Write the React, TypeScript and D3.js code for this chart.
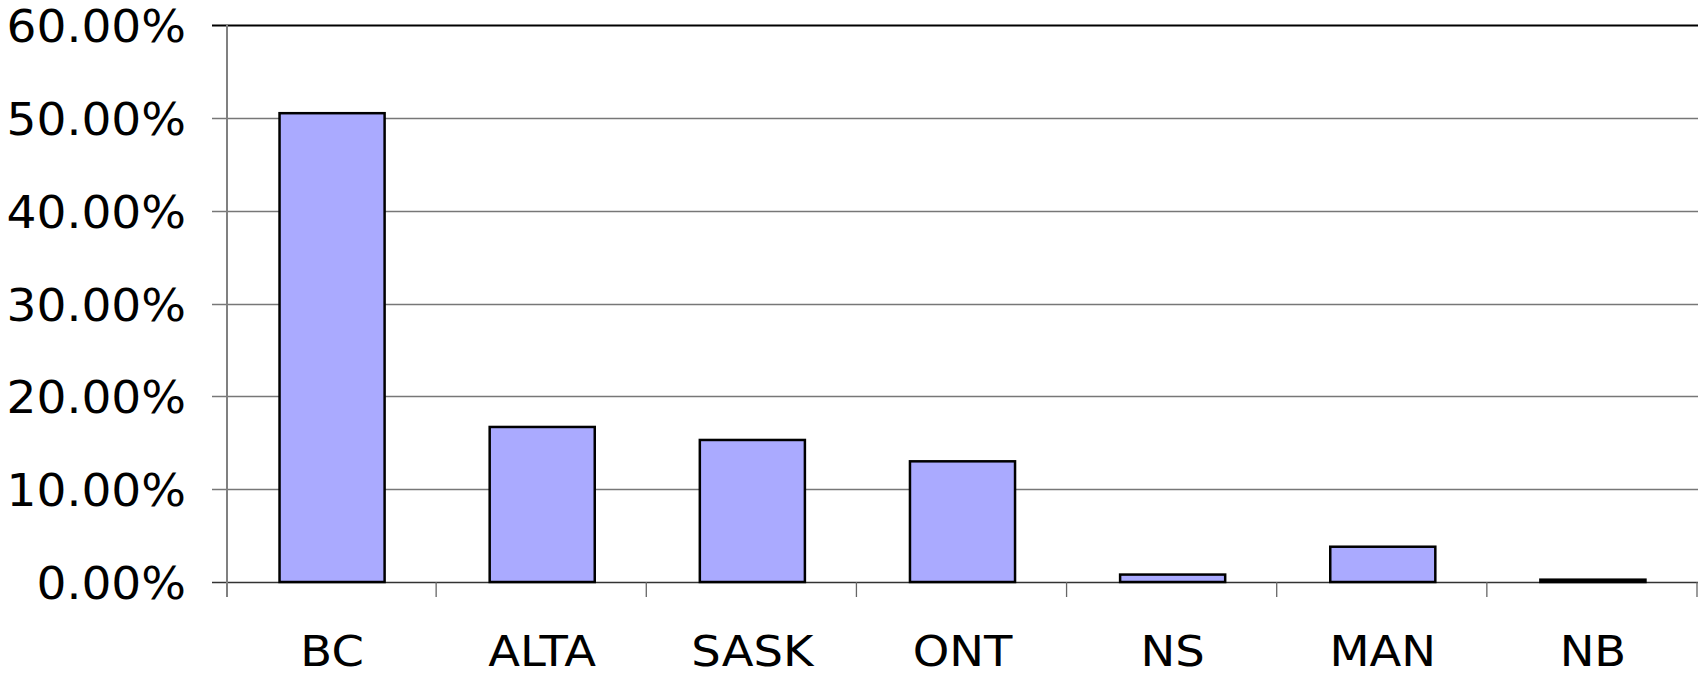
import React, { useEffect, useRef } from 'react';
import * as d3 from 'd3';

// provinces and their share (percent)
const provinces = ['BC', 'ALTA', 'SASK', 'ONT', 'NS', 'MAN', 'NB'];
const shares = [50.5, 16.7, 15.3, 13.0, 0.8, 3.8, 0.25];
const yTicks = [0, 10, 20, 30, 40, 50, 60];

const App = () => {
  const ref = useRef<SVGSVGElement>(null);

  useEffect(() => {
    const W = 1699, H = 676;
    const margin = { top: 25, left: 227, right: 1, bottom: 94 };
    const svg = d3.select(ref.current);
    svg.selectAll('*').remove();

    const x = d3.scaleBand().domain(provinces)
      .range([margin.left, W - margin.right])
      .paddingInner(0.5).paddingOuter(0.25);
    const xEdge = d3.scaleLinear().domain([0, provinces.length])
      .range([margin.left, W - margin.right]);
    const y = d3.scaleLinear().domain([0, 60]).range([H - margin.bottom, margin.top]);

    // the original font runs a bit wider than DejaVu, so stretch it a little
    const font = '"DejaVu Sans", Verdana, sans-serif';

    // gridlines
    svg.append('g').selectAll('line').data(yTicks).join('line')
      .attr('x1', margin.left - 15).attr('x2', W - margin.right)
      .attr('y1', d => Math.round(y(d)) + 0.5).attr('y2', d => Math.round(y(d)) + 0.5)
      .attr('stroke', d => (d === 60 ? '#000' : d === 0 ? '#333' : '#777'))
      .attr('stroke-width', d => (d === 60 ? 2 : 1.3));

    // y axis line
    svg.append('line')
      .attr('x1', margin.left).attr('x2', margin.left)
      .attr('y1', y(60)).attr('y2', y(0) + 15)
      .attr('stroke', '#808080').attr('stroke-width', 2);

    // category ticks
    svg.append('g').selectAll('line').data(d3.range(1, provinces.length + 1)).join('line')
      .attr('x1', d => xEdge(d) - 1).attr('x2', d => xEdge(d) - 1)
      .attr('y1', y(0)).attr('y2', y(0) + 15)
      .attr('stroke', '#666').attr('stroke-width', 1.3);

    // bars
    svg.append('g').selectAll('rect').data(shares).join('rect')
      .attr('x', (d, i) => x(provinces[i])!)
      .attr('width', x.bandwidth())
      .attr('y', d => y(d))
      .attr('height', d => y(0) - y(d))
      .attr('fill', '#aaaaff')
      .attr('stroke', '#000').attr('stroke-width', 2.5);

    // y labels
    svg.append('g').selectAll('text').data(yTicks).join('text')
      .attr('transform', d => `translate(186,${y(d) + 17}) scale(1.07,1)`)
      .attr('text-anchor', 'end')
      .style('font-family', font).style('font-size', '44px')
      .text(d => d.toFixed(2) + '%');

    // x labels
    svg.append('g').selectAll('text').data(provinces).join('text')
      .attr('transform', d => `translate(${x(d)! + x.bandwidth() / 2},666) scale(1.08,1)`)
      .attr('text-anchor', 'middle')
      .style('font-family', font).style('font-size', '43px')
      .text(d => d);
  }, []);

  return (
    <svg ref={ref} width={1699} height={676}
      style={{ position: 'absolute', left: 0, top: 0, background: '#fff' }} />
  );
};

export default App;
